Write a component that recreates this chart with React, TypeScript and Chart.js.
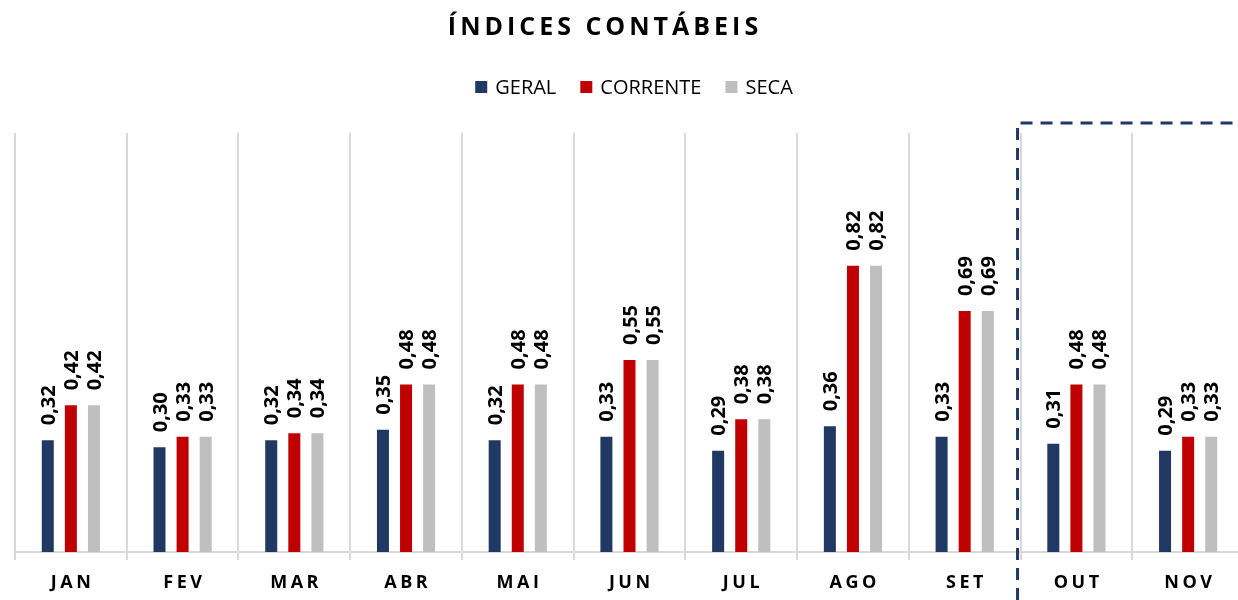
import React, { useEffect, useRef } from 'react';
import { Chart, registerables } from 'chart.js';

Chart.register(...registerables);

const categories = ['JAN', 'FEV', 'MAR', 'ABR', 'MAI', 'JUN', 'JUL', 'AGO', 'SET', 'OUT', 'NOV'];
const geral = [0.32, 0.30, 0.32, 0.35, 0.32, 0.33, 0.29, 0.36, 0.33, 0.31, 0.29];
const corrente = [0.42, 0.33, 0.34, 0.48, 0.48, 0.55, 0.38, 0.82, 0.69, 0.48, 0.33];
const seca = [0.42, 0.33, 0.34, 0.48, 0.48, 0.55, 0.38, 0.82, 0.69, 0.48, 0.33];
const seriesNames = ['GERAL', 'CORRENTE', 'SECA'];
const seriesColors = ['#1f3864', '#c00000', '#bfbfbf'];
const chartTitle = 'ÍNDICES CONTÁBEIS';
const highlightFrom = 'OUT';

const FONT = '"Open Sans", "DejaVu Sans", sans-serif';

const decorPlugin = {
  id: 'decor',
  afterDatasetsDraw(chart: any) {
    const ctx = chart.ctx;
    ctx.save();
    ctx.font = `bold 20px ${FONT}`;
    ctx.fillStyle = '#000000';
    ctx.textAlign = 'left';
    ctx.textBaseline = 'alphabetic';
    chart.data.datasets.forEach((ds: any, i: number) => {
      const meta = chart.getDatasetMeta(i);
      meta.data.forEach((bar: any, j: number) => {
        const v = ds.data[j] as number;
        const txt = v.toFixed(2).replace('.', ',');
        ctx.save();
        ctx.translate(bar.x + 7, bar.y - 15);
        ctx.rotate(-Math.PI / 2);
        ctx.fillText(txt, 0, 0);
        ctx.restore();
      });
    });
    ctx.restore();
  },
  afterDraw(chart: any) {
    const ctx = chart.ctx;
    const xScale = chart.scales.x;
    const area = chart.chartArea;

    // Title
    ctx.save();
    ctx.font = `bold 25px ${FONT}`;
    (ctx as any).letterSpacing = '4px';
    ctx.fillStyle = '#000000';
    ctx.textAlign = 'center';
    ctx.textBaseline = 'alphabetic';
    ctx.fillText(chartTitle, 605, 35);
    ctx.restore();

    // Legend
    ctx.save();
    ctx.font = `20px ${FONT}`;
    ctx.textBaseline = 'alphabetic';
    ctx.textAlign = 'left';
    const box = 12;
    const boxGap = 8;
    const itemGap = 24;
    const widths = chart.data.datasets.map((d: any) => ctx.measureText(d.label).width);
    const total = widths.reduce((a: number, w: number) => a + box + boxGap + w, 0) + itemGap * (widths.length - 1);
    let lx = 634 - total / 2;
    const ly = 87;
    chart.data.datasets.forEach((d: any, i: number) => {
      ctx.fillStyle = d.backgroundColor;
      ctx.fillRect(lx, ly - box / 2, box, box);
      ctx.fillStyle = '#000000';
      ctx.fillText(d.label, lx + box + boxGap, ly + 7);
      lx += box + boxGap + widths[i] + itemGap;
    });
    ctx.restore();

    // X labels
    ctx.save();
    ctx.font = `bold 18px ${FONT}`;
    (ctx as any).letterSpacing = '3.5px';
    ctx.fillStyle = '#000000';
    ctx.textAlign = 'center';
    ctx.textBaseline = 'alphabetic';
    chart.data.labels.forEach((lab: string, i: number) => {
      ctx.fillText(lab, xScale.getPixelForValue(i) + 1.75, 588);
    });
    ctx.restore();

    // Dashed highlight box
    const idx = chart.data.labels.indexOf(highlightFrom);
    if (idx > 0) {
      const bx = (xScale.getPixelForValue(idx - 1) + xScale.getPixelForValue(idx)) / 2 - 3;
      const by = area.top - 10;
      ctx.save();
      ctx.strokeStyle = '#1f3864';
      ctx.lineWidth = 3;
      ctx.setLineDash([12, 8]);
      ctx.beginPath();
      ctx.moveTo(bx, chart.height);
      ctx.lineTo(bx, by);
      ctx.lineTo(chart.width, by);
      ctx.stroke();
      ctx.restore();
    }
  },
};

export default function App() {
  const canvasRef = useRef<HTMLCanvasElement | null>(null);

  useEffect(() => {
    if (!canvasRef.current) return;
    const chart = new Chart(canvasRef.current, {
      type: 'bar',
      data: {
        labels: categories,
        datasets: [geral, corrente, seca].map((vals, i) => ({
          label: seriesNames[i],
          data: vals,
          backgroundColor: seriesColors[i],
          borderWidth: 0,
          categoryPercentage: 0.62,
          barPercentage: 0.52,
        })),
      },
      options: {
        responsive: false,
        devicePixelRatio: 1,
        animation: false,
        layout: { padding: { left: 15, right: 6, top: 133, bottom: 40 } },
        plugins: {
          legend: { display: false },
          title: { display: false },
          tooltip: { enabled: false },
        },
        scales: {
          x: {
            grid: { color: '#d9d9d9', lineWidth: 2, offset: true, drawTicks: true, tickLength: 8 },
            border: { color: '#d9d9d9', width: 2 },
            ticks: { display: false },
          },
          y: { display: false, min: 0, max: 1.2 },
        },
      },
      plugins: [decorPlugin],
    });
    return () => chart.destroy();
  }, []);

  return (
    <div style={{ position: 'fixed', left: 0, top: 0, width: 1238, height: 600, overflow: 'hidden', background: '#ffffff' }}>
      <canvas ref={canvasRef} width={1250} height={600} style={{ display: 'block', width: 1250, height: 600 }} />
    </div>
  );
}
